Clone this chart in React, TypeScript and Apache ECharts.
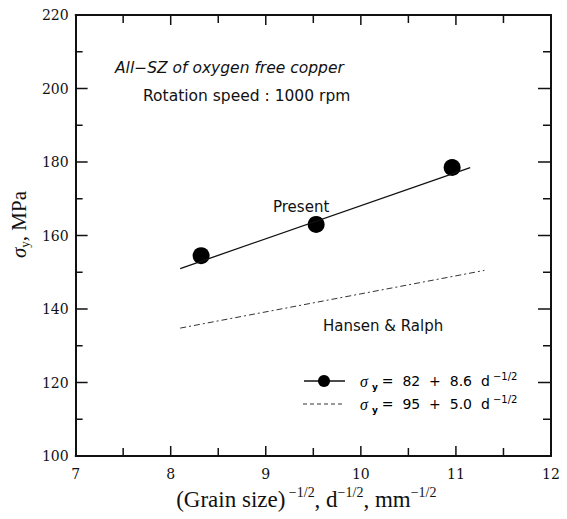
import React, { useEffect, useRef } from "react";
import * as echarts from "echarts";

// ---- data ----
const presentX = [8.32, 9.53, 10.96];
const presentY = [154.5, 163, 178.5];
const presentFitX = [8.1, 11.15];
const presentFitY = [151, 178.5];
const hansenFitX = [8.1, 11.3];
const hansenFitY = [134.8, 150.5];
const xRange = [7, 12];
const yRange = [100, 220];
const xInterval = 1;
const yInterval = 20;
const xMajorTicks = [8, 9, 10, 11];
const xMinorTicks = [7.5, 8.5, 9.5, 10.5, 11.5];
const yMajorTicks = [120, 140, 160, 180, 200];
const yMinorTicks = [110, 130, 150, 170, 190, 210];
const titleLines = ["All\u2212SZ of oxygen free copper", "Rotation speed : 1000 rpm"];
const seriesLabels = ["Present", "Hansen & Ralph"];
const legendEquations = ["=  82  +  8.6  d", "=  95  +  5.0  d"];

const INK = "#111111";

export default function App() {
  const ref = useRef<HTMLDivElement>(null);
  useEffect(() => {
    document.body.style.margin = "0";
    if (!ref.current) return;
    const chart = echarts.init(ref.current, undefined, { renderer: "svg" });

    const tickFont = { fontFamily: "DejaVu Serif", fontSize: 14, color: INK };
    const mkAxis = (type: "x" | "y", position: string, interval: number, showLabel: boolean, margin: number) => ({
      type: "value",
      min: type === "x" ? xRange[0] : yRange[0],
      max: type === "x" ? xRange[1] : yRange[1],
      interval,
      position,
      axisLine: { show: true, onZero: false, lineStyle: { color: INK, width: 2 } },
      axisTick: { show: false },
      splitLine: { show: false },
      axisLabel: { show: showLabel, ...tickFont, margin },
    });

    // tick marks: kind 0 = x major, 1 = x minor, 2 = y major, 3 = y minor
    const tickData: number[][] = [
      ...xMajorTicks.map((v) => [v, 0]),
      ...xMinorTicks.map((v) => [v, 1]),
      ...yMajorTicks.map((v) => [v, 2]),
      ...yMinorTicks.map((v) => [v, 3]),
    ];

    const legendRich = {
      s: { fontFamily: "Liberation Serif", fontStyle: "italic", fontSize: 16, color: INK },
      sub: { fontFamily: "DejaVu Sans", fontWeight: "bold", fontSize: 9, color: INK, verticalAlign: "bottom", lineHeight: 9, padding: [0, 4, 0, 4] },
      t: { fontFamily: "DejaVu Sans", fontSize: 14, color: INK, lineHeight: 20 },
      sup: { fontFamily: "DejaVu Sans", fontSize: 10, color: INK, verticalAlign: "top", lineHeight: 10 },
    };

    chart.setOption({
      animation: false,
      backgroundColor: "#ffffff",
      grid: { left: 75, right: 16, top: 15, bottom: 63, containLabel: false },
      xAxis: [
        {
          ...mkAxis("x", "bottom", xInterval, true, 11),
          name: "{t|(Grain size)}{sup| \u22121/2}{t|, d}{sup|\u22121/2}{t|, mm}{sup|\u22121/2}",
          nameLocation: "middle",
          nameGap: 29,
          nameTextStyle: {
            padding: [0, 14, 0, 0],
            rich: {
              t: { fontFamily: "Liberation Serif", fontSize: 23, color: INK, lineHeight: 27 },
              sup: { fontFamily: "Liberation Serif", fontSize: 14, color: INK, verticalAlign: "top", lineHeight: 14 },
            },
          },
        },
        mkAxis("x", "top", xInterval, false, 8),
      ],
      yAxis: [
        {
          ...mkAxis("y", "left", yInterval, true, 7),
          name: "{s|\u03c3}{sub|y}{t|, MPa}",
          nameLocation: "middle",
          nameRotate: 90,
          nameGap: 40,
          nameTextStyle: {
            padding: [0, 0, 0, 22],
            rich: {
              s: { fontFamily: "Liberation Serif", fontStyle: "italic", fontSize: 21, color: INK, lineHeight: 25 },
              sub: { fontFamily: "Liberation Serif", fontSize: 13, color: INK, verticalAlign: "bottom", lineHeight: 13 },
              t: { fontFamily: "Liberation Serif", fontSize: 21, color: INK, lineHeight: 25 },
            },
          },
        },
        mkAxis("y", "right", yInterval, false, 8),
      ],
      series: [
        {
          name: "ticks",
          type: "custom",
          silent: true,
          clip: false,
          data: tickData,
          encode: { x: 0, y: 1 },
          renderItem: (params: any, api: any) => {
            const v = api.value(0);
            const k = api.value(1);
            const cs = params.coordSys;
            const left = cs.x;
            const top = cs.y;
            const right = cs.x + cs.width;
            const bottom = cs.y + cs.height;
            const style = { stroke: INK, lineWidth: 1.5 };
            if (k === 0 || k === 1) {
              const px = api.coord([v, yRange[0]])[0];
              const len = k === 0 ? 10 : 8;
              return {
                type: "group",
                children: [
                  { type: "line", shape: { x1: px, y1: bottom, x2: px, y2: bottom - len }, style },
                  { type: "line", shape: { x1: px, y1: top, x2: px, y2: top + len }, style },
                ],
              };
            }
            const py = api.coord([xRange[0], v])[1];
            const lenL = k === 2 ? 12 : 7;
            const lenR = k === 2 ? 13 : 8;
            return {
              type: "group",
              children: [
                { type: "line", shape: { x1: left, y1: py, x2: left + lenL, y2: py }, style },
                { type: "line", shape: { x1: right, y1: py, x2: right - lenR, y2: py }, style },
              ],
            };
          },
        },
        {
          name: seriesLabels[0] + " fit",
          type: "line",
          data: presentFitX.map((x, i) => [x, presentFitY[i]]),
          symbol: "none",
          lineStyle: { color: INK, width: 1.3 },
          silent: true,
        },
        {
          name: seriesLabels[1],
          type: "line",
          data: hansenFitX.map((x, i) => [x, hansenFitY[i]]),
          symbol: "none",
          lineStyle: { color: "#333", width: 1, type: [6, 3, 2, 3] },
          silent: true,
        },
        {
          name: seriesLabels[0],
          type: "scatter",
          data: presentX.map((x, i) => [x, presentY[i]]),
          symbol: "circle",
          symbolSize: 17,
          itemStyle: { color: "#000", opacity: 1 },
          silent: true,
        },
      ],
      graphic: [
        {
          type: "text",
          x: 115,
          y: 68,
          style: {
            text: titleLines[0],
            fontFamily: "DejaVu Sans",
            fontStyle: "italic",
            fontSize: 15.5,
            fill: INK,
            verticalAlign: "middle",
          },
        },
        {
          type: "text",
          x: 143,
          y: 96,
          style: {
            text: titleLines[1],
            fontFamily: "DejaVu Sans",
            fontSize: 15.5,
            fill: INK,
            verticalAlign: "middle",
          },
        },
        {
          type: "text",
          x: 273,
          y: 207,
          style: { text: seriesLabels[0], fontFamily: "DejaVu Sans", fontSize: 15, fill: INK, verticalAlign: "middle" },
        },
        {
          type: "text",
          x: 323,
          y: 326,
          style: { text: seriesLabels[1], fontFamily: "DejaVu Sans", fontSize: 15, fill: INK, verticalAlign: "middle" },
        },
        // legend
        { type: "line", shape: { x1: 304, y1: 381, x2: 345, y2: 381 }, style: { stroke: INK, lineWidth: 1.3 } },
        { type: "circle", shape: { cx: 324, cy: 381, r: 6 }, style: { fill: "#000" } },
        {
          type: "text",
          x: 360,
          y: 381,
          style: {
            text: "{s|\u03c3}{sub|y}{t|" + legendEquations[0] + "}{sup| \u22121/2}",
            rich: legendRich,
            verticalAlign: "middle",
          },
        },
        { type: "line", shape: { x1: 303, y1: 404, x2: 343, y2: 404 }, style: { stroke: "#333", lineWidth: 1, lineDash: [4, 3] } },
        {
          type: "text",
          x: 360,
          y: 404,
          style: {
            text: "{s|\u03c3}{sub|y}{t|" + legendEquations[1] + "}{sup| \u22121/2}",
            rich: legendRich,
            verticalAlign: "middle",
          },
        },
      ],
    });
    return () => chart.dispose();
  }, []);
  return <div ref={ref} style={{ width: 567, height: 519 }} />;
}
